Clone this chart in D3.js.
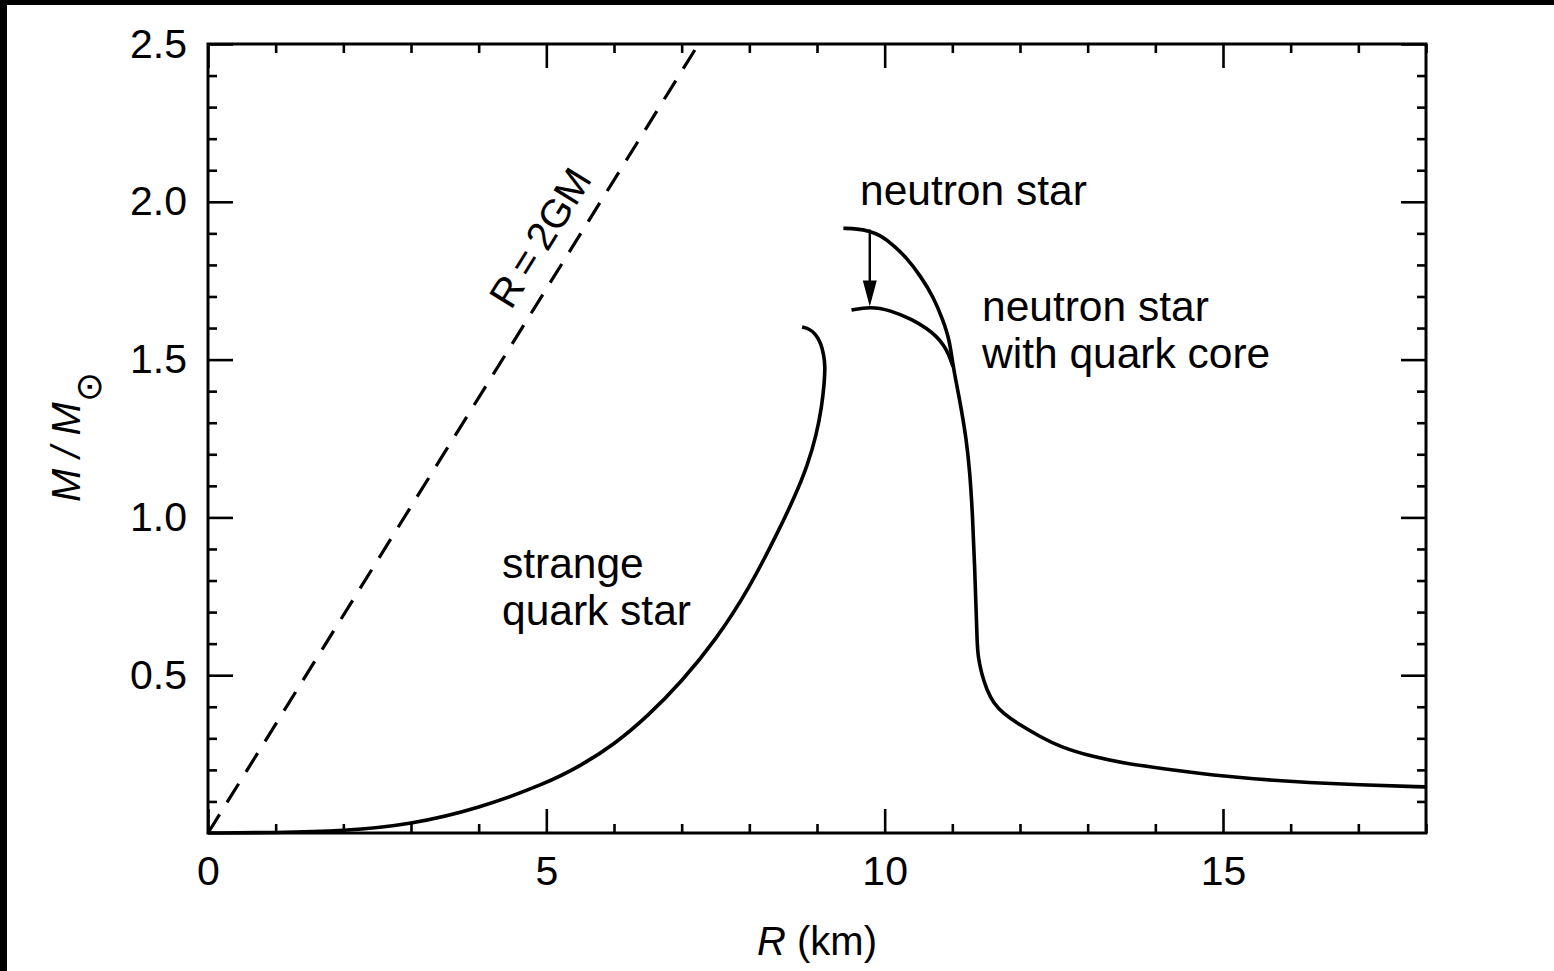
<!DOCTYPE html>
<html>
<head>
<meta charset="utf-8">
<script src="https://cdn.jsdelivr.net/npm/d3@7"></script>
<style>
  html, body { margin: 0; padding: 0; background: #fff; }
  svg { display: block; }
  text { font-family: "Liberation Sans", Arial, Helvetica, sans-serif; fill: #000; }
</style>
</head>
<body>
<svg id="chart" width="1554" height="971"></svg>
<script>
// Mass–radius relations: radius R in km, mass in solar masses
const strangeR = [0, 1, 2, 3, 4, 5, 5.5, 6, 6.5, 7, 7.5, 8, 8.45, 8.68, 8.86, 8.99, 9.07, 9.11, 9.12, 9.10, 9.06, 8.98, 8.88, 8.78];
const strangeM = [0, 0.001, 0.006, 0.027, 0.078, 0.157, 0.212, 0.28, 0.37, 0.48, 0.61, 0.775, 0.965, 1.07, 1.165, 1.26, 1.35, 1.43, 1.48, 1.515, 1.55, 1.582, 1.598, 1.603];

const neutronR = [9.39, 9.6, 9.76, 9.93, 10.13, 10.33, 10.52, 10.72, 10.86, 10.96, 11.01, 11.11, 11.21, 11.26, 11.30, 11.33, 11.355, 11.365, 11.38, 11.43, 11.51, 11.61, 11.75, 12.0, 12.3, 12.59, 13.08, 13.57, 14.07, 15.06, 16.04, 17.03, 18];
const neutronM = [1.916, 1.914, 1.908, 1.895, 1.863, 1.821, 1.768, 1.699, 1.626, 1.562, 1.478, 1.372, 1.245, 1.14, 1.002, 0.844, 0.685, 0.611, 0.558, 0.506, 0.453, 0.411, 0.379, 0.342, 0.305, 0.273, 0.241, 0.220, 0.205, 0.178, 0.162, 0.152, 0.146];

const hybridR = [9.51, 9.78, 10.08, 10.42, 10.62, 10.77, 10.87, 10.94, 11.01];
const hybridM = [1.657, 1.668, 1.657, 1.626, 1.599, 1.573, 1.546, 1.52, 1.478];

// Schwarzschild limit R = 2GM/c^2 (km per solar mass)
const schwarzR = [0, 7.25];
const schwarzM = [0, 2.5];

// Arrow from neutron-star maximum down to the hybrid-star maximum
const arrowR = 9.78;
const arrowM = [1.912, 1.668];

// Axis ticks
const xMajor = [0, 5, 10, 15];
const xMinor = d3.range(0, 19, 1).filter(v => v % 5 !== 0);
const yMajor = [0.5, 1.0, 1.5, 2.0, 2.5];
const yMinor = d3.range(1, 25).map(v => v / 10).filter(v => Math.round(v * 10) % 5 !== 0);

const svg = d3.select("#chart");

// dark strips along the top and left edges of the page
svg.append("rect").attr("x", 0).attr("y", 0).attr("width", 1554).attr("height", 5).attr("fill", "#000");
svg.append("rect").attr("x", 0).attr("y", 0).attr("width", 7).attr("height", 971).attr("fill", "#000");

const plotL = 208, plotR = 1426, plotT = 44, plotB = 833;
const x = d3.scaleLinear().domain([0, 18]).range([plotL, plotR]);
const y = d3.scaleLinear().domain([0, 2.5]).range([plotB, plotT]);

const FS = 41;

function styleAxis(g) {
  g.select(".domain").remove();
  g.selectAll(".tick line").attr("stroke", "#000").attr("stroke-width", 2.6);
  g.selectAll(".tick text").attr("font-size", FS).attr("font-family", "Liberation Sans, Arial, sans-serif").attr("fill", "#000");
}

// major ticks with labels
svg.append("g").attr("transform", `translate(0,${plotB})`)
  .call(d3.axisBottom(x).tickValues(xMajor).tickSize(-24).tickPadding(23).tickFormat(d3.format("d")))
  .call(styleAxis);
svg.append("g").attr("transform", `translate(${plotL},0)`)
  .call(d3.axisLeft(y).tickValues(yMajor).tickSize(-25).tickPadding(21).tickFormat(d3.format(".1f")))
  .call(styleAxis);
svg.append("g").attr("transform", `translate(0,${plotT})`)
  .call(d3.axisTop(x).tickValues(xMajor).tickSize(-24).tickFormat(""))
  .call(styleAxis);
svg.append("g").attr("transform", `translate(${plotR},0)`)
  .call(d3.axisRight(y).tickValues(yMajor).tickSize(-25).tickFormat(""))
  .call(styleAxis);

// minor ticks
svg.append("g").attr("transform", `translate(0,${plotB})`)
  .call(d3.axisBottom(x).tickValues(xMinor).tickSize(-9).tickFormat("")).call(styleAxis);
svg.append("g").attr("transform", `translate(0,${plotT})`)
  .call(d3.axisTop(x).tickValues(xMinor).tickSize(-9).tickFormat("")).call(styleAxis);
svg.append("g").attr("transform", `translate(${plotL},0)`)
  .call(d3.axisLeft(y).tickValues(yMinor).tickSize(-9).tickFormat("")).call(styleAxis);
svg.append("g").attr("transform", `translate(${plotR},0)`)
  .call(d3.axisRight(y).tickValues(yMinor).tickSize(-9).tickFormat("")).call(styleAxis);

// frame
svg.append("rect")
  .attr("x", plotL).attr("y", plotT)
  .attr("width", plotR - plotL).attr("height", plotB - plotT)
  .attr("fill", "none").attr("stroke", "#000").attr("stroke-width", 3);

const zip = (a, b) => a.map((v, i) => [v, b[i]]);
const curveLine = d3.line().x(d => x(d[0])).y(d => y(d[1])).curve(d3.curveBasis);

// Schwarzschild line
svg.append("path")
  .attr("d", d3.line().x(d => x(d[0])).y(d => y(d[1]))(zip(schwarzR, schwarzM)))
  .attr("fill", "none").attr("stroke", "#000").attr("stroke-width", 3.2)
  .attr("stroke-dasharray", "22,14");

// curves
[[strangeR, strangeM], [neutronR, neutronM], [hybridR, hybridM]].forEach(([r, m]) => {
  svg.append("path")
    .attr("d", curveLine(zip(r, m)))
    .attr("fill", "none").attr("stroke", "#000")
    .attr("stroke-width", 3.6).attr("stroke-linecap", "butt").attr("stroke-linejoin", "round");
});

// arrow
const ax = x(arrowR), ay0 = y(arrowM[0]), ay1 = y(arrowM[1]);
svg.append("line")
  .attr("x1", ax).attr("x2", ax).attr("y1", ay0).attr("y2", ay1 - 20)
  .attr("stroke", "#000").attr("stroke-width", 2.4);
svg.append("path")
  .attr("d", `M${ax},${ay1} L${ax - 7},${ay1 - 26} L${ax + 7},${ay1 - 26} Z`)
  .attr("fill", "#000");

// curve labels
const label = (tx, ty, lines) => {
  const t = svg.append("text").attr("x", tx).attr("y", ty).attr("font-size", 42.5);
  lines.forEach((s, i) => t.append("tspan").attr("x", tx).attr("dy", i === 0 ? 0 : 47).text(s));
};
label(860, 205, ["neutron star"]);
label(982, 321, ["neutron star", "with quark core"]);
label(502, 578, ["strange", "quark star"]);

// Schwarzschild label along the dashed line
const ang = Math.atan2(y(2.5) - y(0), x(7.25) - x(0)) * 180 / Math.PI;
svg.append("text")
  .attr("transform", `translate(552,245) rotate(${ang})`)
  .attr("text-anchor", "middle").attr("font-size", 40)
  .text("R\u2009=\u20092GM");

// axis titles
const xt = svg.append("text").attr("x", (plotL + plotR) / 2).attr("y", 955)
  .attr("text-anchor", "middle").attr("font-size", 40);
xt.append("tspan").attr("font-style", "italic").text("R");
xt.append("tspan").text(" (km)");

const yt = svg.append("text").attr("transform", "translate(80,437) rotate(-90)")
  .attr("text-anchor", "middle").attr("font-size", 40);
yt.append("tspan").attr("font-style", "italic").text("M / M");
yt.append("tspan").attr("font-size", 36).attr("dy", 21)
  .attr("font-family", "DejaVu Sans, sans-serif").text("\u2299");
</script>
</body>
</html>
